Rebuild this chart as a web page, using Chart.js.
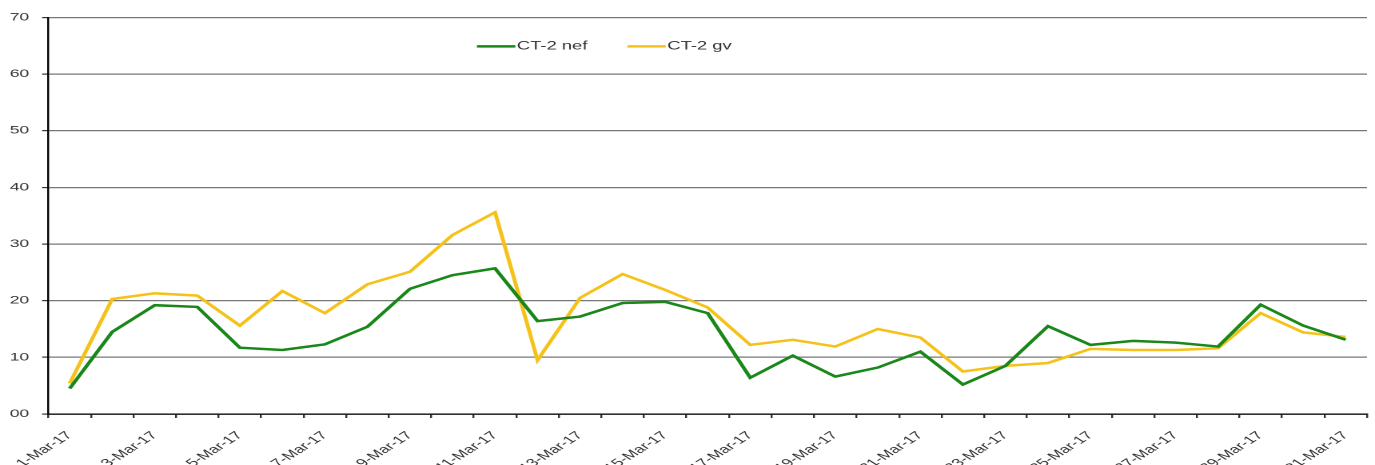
<!DOCTYPE html>
<html>
<head>
<meta charset="utf-8">
<script src="https://cdn.jsdelivr.net/npm/chart.js@4.4.1/dist/chart.umd.min.js"></script>
<style>
  html, body { margin: 0; padding: 0; background: #fff; overflow: hidden; }
  /* the original picture is stretched sideways, so draw narrow and stretch */
  #wrap { width: 860px; height: 465px; transform: scaleX(1.5988); transform-origin: 0 0; }
  #ct-chart { width: 860px; height: 465px; display: block; }
</style>
</head>
<body>
<div id="wrap"><canvas id="ct-chart" width="860" height="465"></canvas></div>
<script>
const days = ['1-Mar-17','2-Mar-17','3-Mar-17','4-Mar-17','5-Mar-17','6-Mar-17','7-Mar-17','8-Mar-17',
  '9-Mar-17','10-Mar-17','11-Mar-17','12-Mar-17','13-Mar-17','14-Mar-17','15-Mar-17','16-Mar-17',
  '17-Mar-17','18-Mar-17','19-Mar-17','20-Mar-17','21-Mar-17','22-Mar-17','23-Mar-17','24-Mar-17',
  '25-Mar-17','26-Mar-17','27-Mar-17','28-Mar-17','29-Mar-17','30-Mar-17','31-Mar-17'];
const nefValues = [4.5,14.5,19.2,18.9,11.7,11.3,12.3,15.4,22.1,24.5,25.7,16.4,17.2,19.6,19.8,17.8,
  6.4,10.3,6.6,8.2,11.0,5.2,8.5,15.5,12.2,12.9,12.6,11.9,19.3,15.6,13.1];
const gvValues = [5.4,20.3,21.3,20.9,15.6,21.7,17.8,22.9,25.1,31.6,35.6,9.5,20.5,24.7,21.9,18.8,
  12.2,13.1,11.9,15.0,13.5,7.5,8.5,9.0,11.5,11.3,11.3,11.6,17.8,14.4,13.6];
const seriesNames = ['CT-2 nef', 'CT-2 gv'];
const yTicks = [0, 10, 20, 30, 40, 50, 60, 70];

const FONT = "'Liberation Sans', Arial, sans-serif";

// legend sits inside the plot, between the 70 and 60 lines
const innerLegend = {
  id: 'innerLegend',
  afterDraw(c) {
    const {ctx, chartArea} = c;
    ctx.save();
    ctx.font = '11.5px ' + FONT;
    ctx.textBaseline = 'middle';
    ctx.fillStyle = '#333';
    let x = chartArea.left + 268;
    const y = chartArea.top + 29;
    c.data.datasets.forEach(ds => {
      ctx.strokeStyle = ds.borderColor;
      ctx.lineWidth = 2.5;
      ctx.beginPath();
      ctx.moveTo(x, y);
      ctx.lineTo(x + 24, y);
      ctx.stroke();
      ctx.fillText(ds.label, x + 25, y);
      x += 25 + ctx.measureText(ds.label).width + 25;
    });
    ctx.restore();
  }
};

new Chart(document.getElementById('ct-chart'), {
  type: 'line',
  data: {
    labels: days,
    datasets: [
      { label: seriesNames[0], data: nefValues, borderColor: '#1A871A', backgroundColor: '#1A871A',
        borderWidth: 2.5, pointRadius: 0, tension: 0, fill: false },
      { label: seriesNames[1], data: gvValues, borderColor: '#F5C21B', backgroundColor: '#F5C21B',
        borderWidth: 2.5, pointRadius: 0, tension: 0, fill: false }
    ]
  },
  options: {
    responsive: false,
    animation: false,
    devicePixelRatio: 2,
    layout: { padding: { left: 6, right: 5, top: 17.4, bottom: 0 } },
    plugins: { legend: { display: false }, tooltip: { enabled: false } },
    scales: {
      x: {
        offset: true,
        afterFit: s => { s.paddingLeft = 0; s.paddingRight = 0; s.height = 51; },
        grid: { offset: true, drawOnChartArea: false, drawTicks: true, tickLength: 4, tickColor: '#333', lineWidth: 1.2 },
        border: { color: '#000', width: 1.2 },
        ticks: {
          autoSkip: false, minRotation: 45, maxRotation: 45, padding: 11,
          color: '#333', font: { family: FONT, size: 11 },
          callback: (v, i) => i % 2 === 0 ? days[i] : ''
        }
      },
      y: {
        min: 0, max: 70,
        afterBuildTicks: s => { s.ticks = yTicks.map(v => ({ value: v })); },
        afterFit: s => { s.width = 24.3; },
        grid: { color: '#777', lineWidth: 1.2, tickLength: 4, tickColor: '#333' },
        border: { color: '#000', width: 1.2 },
        ticks: {
          padding: 8, color: '#333', font: { family: FONT, size: 11 },
          callback: v => String(v).padStart(2, '0')
        }
      }
    }
  },
  plugins: [innerLegend]
});
</script>
</body>
</html>
